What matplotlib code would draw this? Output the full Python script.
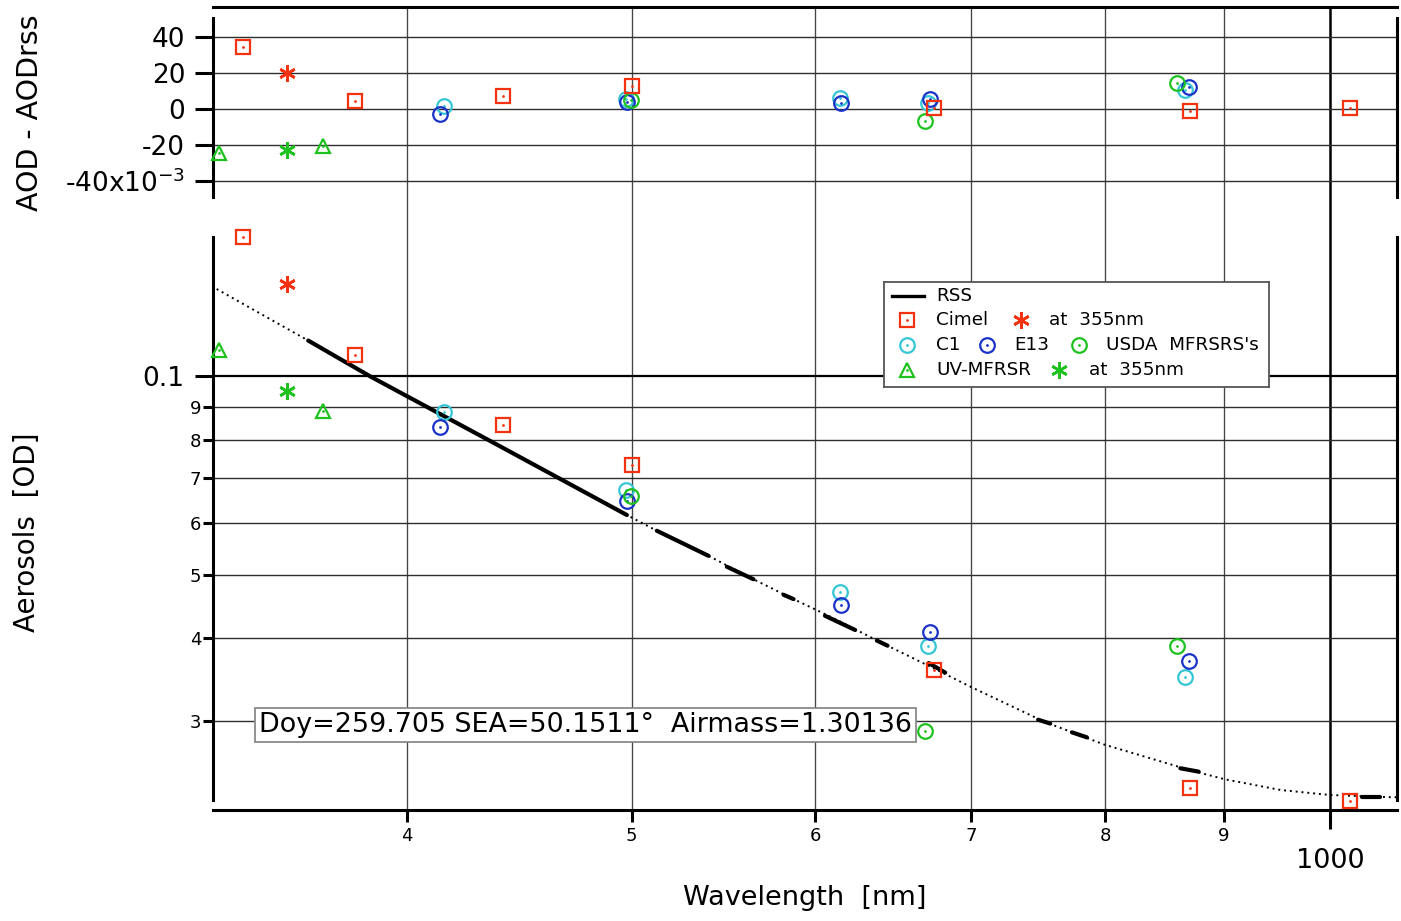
import matplotlib
matplotlib.use("Agg")
import matplotlib.pyplot as plt
from matplotlib.ticker import NullLocator

# ---------------- data ----------------
cimel_wl = [340, 380, 440, 500, 675, 870, 1020]
cimel_od = [0.1630, 0.1079, 0.0845, 0.0734, 0.0358, 0.02368, 0.02268]
cimel_diff = [34.6e-3, 4.7e-3, 7.1e-3, 13.0e-3, 0.4e-3, -1.1e-3, 0.4e-3]

cimel355_wl = [355]
cimel355_od = [0.1382]
cimel355_diff = [20.0e-3]

c1_wl = [415, 497, 615, 671, 866]
c1_od = [0.0882, 0.0673, 0.0470, 0.0390, 0.0350]
c1_diff = [1.7e-3, 5.4e-3, 6.0e-3, 3.2e-3, 10.6e-3]

e13_wl = [413.5, 497.5, 615.5, 672, 869]
e13_od = [0.0838, 0.0648, 0.0450, 0.0409, 0.0370]
e13_diff = [-3.0e-3, 3.7e-3, 3.5e-3, 5.6e-3, 12.1e-3]

usda_wl = [499.5, 669, 859]
usda_od = [0.0659, 0.02897, 0.0390]
usda_diff = [4.9e-3, -6.7e-3, 14.4e-3]

uv_wl = [332, 368]
uv_od = [0.1097, 0.0887]
uv_diff = [-24.8e-3, -20.4e-3]

uv355_wl = [355]
uv355_od = [0.0949]
uv355_diff = [-22.9e-3]

# RSS spectrum (fit, drawn dotted)
rss_wl = [331.2, 362.7, 385.8, 434.8, 497.6, 512.6, 539.6, 564.2, 587.1, 611.2,
          638.8, 675.0, 699.6, 752.8, 799.0, 871.2, 900.7, 952.0, 1000.0, 1063.8, 1070.4]
rss_od = [0.1358, 0.1134, 0.1000, 0.0797, 0.0616, 0.0583, 0.0534, 0.0492, 0.0459, 0.0429,
          0.0396, 0.0360, 0.0338, 0.0299, 0.0276, 0.0252, 0.02444, 0.02354, 0.02313, 0.02295, 0.02296]

# RSS measured pieces (drawn solid, thick)
rss_seg_wl = [[362.7, 385.8, 434.8, 497.6], [512.6, 539.6], [549.5, 564.2], [581.3, 587.1],
              [605.7, 624.1], [637.7, 644.5], [671.4, 682.4], [748.4, 757.4],
              [773.9, 785.5], [861.8, 877.6], [1032.0, 1050.9]]
rss_seg_od = [[0.1134, 0.1000, 0.0797, 0.0616], [0.0583, 0.0534], [0.0514, 0.0492], [0.0466, 0.0459],
              [0.0433, 0.0412], [0.0397, 0.0390], [0.0367, 0.0355], [0.0301, 0.0297],
              [0.0288, 0.0283], [0.0254, 0.0251], [0.02296, 0.02296]]

wl_minor = [400, 500, 600, 700, 800, 900]
wl_minor_labels = ["4", "5", "6", "7", "8", "9"]
wl_major = [1000]
wl_major_labels = ["1000"]

diff_ticks = [-0.04, -0.02, 0.0, 0.02, 0.04]
diff_labels = ["-40x10$^{-3}$", "-20", "0", "20", "40"]

od_major = [0.1]
od_major_labels = ["0.1"]
od_minor = [0.03, 0.04, 0.05, 0.06, 0.07, 0.08, 0.09]
od_minor_labels = ["3", "4", "5", "6", "7", "8", "9"]

info_text = "Doy=259.705 SEA=50.1511°  Airmass=1.30136"

# ---------------- styling ----------------
RED = "#f5320f"
CYAN = "#35c6d6"
BLUE = "#1a32c8"
GREEN = "#1ec21e"
GRID = "#2e2e2e"

W, H = 1401, 921
XMIN, XMAX = 330.0, 1068.5


def fx(px):
    return px / W


def fy(py):
    return 1 - py / H


fig = plt.figure(figsize=(W / 100, H / 100), dpi=100)
fig.patch.set_facecolor("white")

L, R = 213, 1397

# background axes carrying the vertical grid lines through both panels
axbg = fig.add_axes([fx(L), fy(810), (R - L) / W, (810 - 7) / H])
axbg.set_xscale("log")
axbg.set_xlim(XMIN, XMAX)
axbg.set_ylim(0, 1)
axbg.axis("off")
for w in wl_minor:
    axbg.axvline(w, color="#444444", lw=0.95)
for w in wl_major:
    axbg.axvline(w, color="black", lw=1.8)

# ---------------- top panel ----------------
ax1 = fig.add_axes([fx(L), fy(197), (R - L) / W, (197 - 7) / H])
ax1.set_facecolor("none")
ax1.set_xscale("log")
ax1.set_xlim(XMIN, XMAX)
ax1.set_ylim(-0.04916, 0.05698)
ax1.xaxis.set_major_locator(NullLocator())
ax1.xaxis.set_minor_locator(NullLocator())
ax1.tick_params(axis="x", which="both", bottom=False, labelbottom=False)
ax1.set_yticks(diff_ticks, labels=diff_labels)
ax1.tick_params(axis="y", direction="out", length=13, width=2.2, pad=7, labelsize=19)
for y in diff_ticks:
    ax1.axhline(y, color=GRID, lw=1.0, zorder=1)
ax1.spines["bottom"].set_visible(False)
for s in ["top", "left", "right"]:
    ax1.spines[s].set_linewidth(2.2)
ax1.spines["left"].set_bounds(-0.04916, 0.0508)
ax1.spines["right"].set_bounds(-0.04916, 0.0508)

# ---------------- bottom panel ----------------
ax2 = fig.add_axes([fx(L), fy(810), (R - L) / W, (810 - 237) / H])
ax2.set_facecolor("none")
ax2.set_xscale("log")
ax2.set_yscale("log")
ax2.set_xlim(XMIN, XMAX)
ax2.set_ylim(0.02195, 0.1629)
ax2.set_xticks(wl_major, labels=wl_major_labels)
ax2.set_xticks(wl_minor, labels=wl_minor_labels, minor=True)
ax2.set_yticks(od_major, labels=od_major_labels)
ax2.set_yticks(od_minor, labels=od_minor_labels, minor=True)
ax2.tick_params(axis="x", which="major", direction="out", length=14, width=2.2, pad=13, labelsize=19.5)
ax2.tick_params(axis="x", which="minor", direction="out", length=8.5, width=2.2, pad=4, labelsize=13)
ax2.tick_params(axis="y", which="major", direction="out", length=13, width=2.2, pad=8, labelsize=19)
ax2.tick_params(axis="y", which="minor", direction="out", length=7, width=2.2, pad=1.5, labelsize=13)
for y in od_major:
    ax2.axhline(y, color="black", lw=1.6, zorder=1)
for y in od_minor:
    ax2.axhline(y, color=GRID, lw=1.0, zorder=1)
ax2.spines["top"].set_visible(False)
for s in ["bottom", "left", "right"]:
    ax2.spines[s].set_linewidth(2.2)
ax2.spines["left"].set_bounds(0.02273, 0.1629)
ax2.spines["right"].set_bounds(0.02273, 0.1629)

# RSS curve
ax2.plot(rss_wl, rss_od, color="black", lw=1.4, ls=(0, (1, 2.0)), zorder=3)
for sw, so in zip(rss_seg_wl, rss_seg_od):
    ax2.plot(sw, so, color="black", lw=3.0, solid_capstyle="round", zorder=3)


def hollow(ax, wl, val, marker, color, ms):
    ax.plot(wl, val, ls="none", marker=marker, ms=ms, mfc="none", mec=color,
            mew=1.6, clip_on=False, zorder=5)
    ax.plot(wl, val, ls="none", marker="o", ms=2.0, mfc=color, mec=color,
            mew=0, clip_on=False, zorder=5)


def star(ax, wl, val, color):
    ax.plot(wl, val, ls="none", marker=(6, 2, 0), ms=12, mec=color, mfc=color,
            mew=1.9, clip_on=False, zorder=5)


for ax, key in ((ax1, "diff"), (ax2, "od")):
    d = {
        "cimel": cimel_diff if key == "diff" else cimel_od,
        "c1": c1_diff if key == "diff" else c1_od,
        "e13": e13_diff if key == "diff" else e13_od,
        "usda": usda_diff if key == "diff" else usda_od,
        "uv": uv_diff if key == "diff" else uv_od,
        "c355": cimel355_diff if key == "diff" else cimel355_od,
        "u355": uv355_diff if key == "diff" else uv355_od,
    }
    hollow(ax, c1_wl, d["c1"], "o", CYAN, 10.5)
    hollow(ax, e13_wl, d["e13"], "o", BLUE, 10.5)
    hollow(ax, usda_wl, d["usda"], "o", GREEN, 10.5)
    hollow(ax, cimel_wl, d["cimel"], "s", RED, 10)
    hollow(ax, uv_wl, d["uv"], "^", GREEN, 9.5)
    star(ax, cimel355_wl, d["c355"], RED)
    star(ax, uv355_wl, d["u355"], GREEN)

# ---------------- labels ----------------
fig.text(fx(30), fy(113), "AOD - AODrss", rotation=90, ha="center", va="center", fontsize=20.5)
fig.text(fx(27), fy(532), "Aerosols  [OD]", rotation=90, ha="center", va="center", fontsize=20)
fig.text(fx(805), fy(898), "Wavelength  [nm]", ha="center", va="center", fontsize=19.5)

fig.text(fx(259), fy(725), info_text, ha="left", va="center", fontsize=19.4,
         bbox=dict(boxstyle="square,pad=0.14", fc="white", ec="#8a8a8a", lw=1.3), zorder=10)

# ---------------- legend (custom, several symbols per row) ----------------
LX0, LX1, LY0, LY1 = 884, 1269, 282, 387
axL = fig.add_axes([fx(LX0), fy(LY1), (LX1 - LX0) / W, (LY1 - LY0) / H])
axL.set_zorder(10)
axL.set_xlim(LX0, LX1)
axL.set_ylim(LY1, LY0)
axL.set_xticks([])
axL.set_yticks([])
for s in axL.spines.values():
    s.set_linewidth(1.3)
    s.set_edgecolor("#555555")
axL.set_facecolor("white")


def lg_mark(x, y, marker, color, ms, dot=True):
    axL.plot([x], [y], ls="none", marker=marker, ms=ms, mfc="none", mec=color, mew=1.6)
    if dot:
        axL.plot([x], [y], ls="none", marker="o", ms=2.0, mfc=color, mec=color, mew=0)


def lg_star(x, y, color):
    axL.plot([x], [y], ls="none", marker=(6, 2, 0), ms=12, mec=color, mfc=color, mew=1.9)


def lg_text(x, y, s):
    axL.text(x, y, s, ha="left", va="center", fontsize=13.2)


axL.plot([892, 924], [296, 296], color="black", lw=2.4)
lg_text(936, 296, "RSS")
lg_mark(907, 320, "s", RED, 10)
lg_text(936, 320, "Cimel")
lg_star(1021, 320, RED)
lg_text(1049, 320, "at  355nm")
lg_mark(907, 345, "o", CYAN, 10.5)
lg_text(936, 345, "C1")
lg_mark(987, 345, "o", BLUE, 10.5)
lg_text(1014, 345, "E13")
lg_mark(1079, 345, "o", GREEN, 10.5)
lg_text(1106, 345, "USDA  MFRSRS's")
lg_mark(907, 370, "^", GREEN, 9.5)
lg_text(936, 370, "UV-MFRSR")
lg_star(1059, 370, GREEN)
lg_text(1089, 370, "at  355nm")

fig.savefig("out.png", dpi=100, facecolor="white")
